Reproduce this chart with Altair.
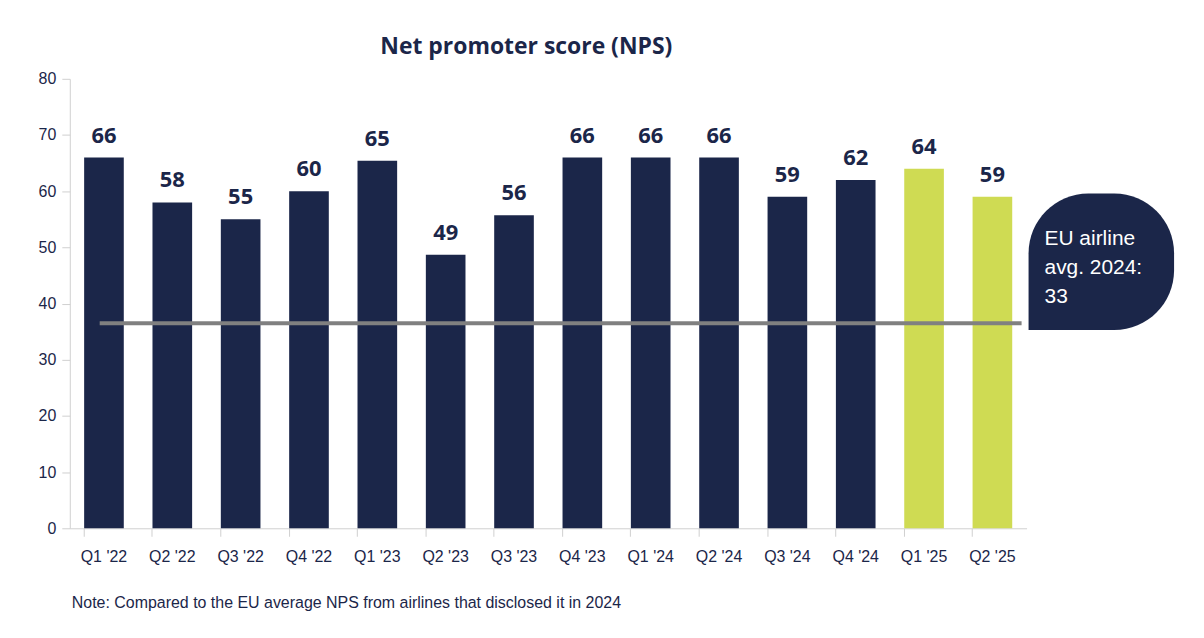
import pandas as pd
import altair as alt

quarters = ["Q1 '22", "Q2 '22", "Q3 '22", "Q4 '22", "Q1 '23", "Q2 '23", "Q3 '23",
            "Q4 '23", "Q1 '24", "Q2 '24", "Q3 '24", "Q4 '24", "Q1 '25", "Q2 '25"]
nps = [66, 58, 55, 60, 65, 49, 56, 66, 66, 66, 59, 62, 64, 59]
bar_heights = [66, 58, 55, 60, 65.4, 48.7, 55.7, 66, 66, 66, 59, 62, 64, 59]
group = ["past"] * 12 + ["2025"] * 2
eu_line = 36.5  # where the reference line sits in the picture

NAVY = "#1b2649"
GREEN = "#cfdb53"
FONT = "Open Sans"

df = pd.DataFrame({"q": quarters, "nps": nps, "h": bar_heights, "g": group})

x = alt.X("q:N", sort=quarters, title=None,
          scale=alt.Scale(paddingInner=0.42, paddingOuter=0.21),
          axis=alt.Axis(labelAngle=0, labelFont="Liberation Sans", labelFontSize=16,
                        labelColor="#1b2649", labelPadding=12, domainColor="#d0d0d0",
                        tickColor="#d0d0d0", tickSize=8, bandPosition=0))
y = alt.Y("h:Q", title=None, scale=alt.Scale(domain=[0, 80]),
          axis=alt.Axis(values=list(range(0, 81, 10)), grid=False, labelFont="Liberation Sans",
                        labelFontSize=16, labelColor="#1b2649", labelPadding=6,
                        domainColor="#d0d0d0", tickColor="#d0d0d0", tickSize=8))

base = alt.Chart(df)
bars = base.mark_bar().encode(
    x=x, y=y,
    color=alt.Color("g:N", scale=alt.Scale(domain=["past", "2025"], range=[NAVY, GREEN]), legend=None),
)
labels = base.mark_text(dy=-22, font=FONT, fontSize=22, fontWeight="bold", color=NAVY).encode(
    x=x, y="h:Q", text="nps:Q")

line = alt.Chart(pd.DataFrame({"v": [eu_line]})).mark_rule(color="#808080", strokeWidth=4).encode(
    y="v:Q", x=alt.value(30), x2=alt.value(955))

bubble = alt.Chart(pd.DataFrame({"a": [0]})).mark_rect(
    color=NAVY, cornerRadiusTopLeft=60, cornerRadiusTopRight=60,
    cornerRadiusBottomRight=60, cornerRadiusBottomLeft=0, clip=False
).encode(x=alt.value(962), x2=alt.value(1108), y=alt.value(115), y2=alt.value(252))

bubble_text = alt.Chart(pd.DataFrame({"t": [["EU airline", "avg. 2024:", "33"]]})).mark_text(
    align="left", baseline="top", font="Liberation Sans", fontSize=21, color="white",
    lineHeight=29, clip=False
).encode(x=alt.value(978), y=alt.value(150), text="t")

note = alt.Chart(pd.DataFrame({"t": ["Note: Compared to the EU average NPS from airlines that disclosed it in 2024"]})).mark_text(
    align="left", baseline="middle", font="Liberation Sans", fontSize=16, color=NAVY
).encode(x=alt.value(2), y=alt.value(526), text="t")

chart = alt.layer(bars, line, labels, bubble, bubble_text, note).properties(
    width=960, height=451,
    title=alt.Title("Net promoter score (NPS)", font=FONT, fontSize=23, fontWeight="bold",
                    color=NAVY, anchor="middle", dx=-22, offset=12),
    autosize=alt.AutoSizeParams(type="none"),
    padding={"left": 62, "top": 70, "right": 170, "bottom": 100},
).configure_view(stroke=None)

chart.save("out.html", embed_options={"renderer": "svg", "actions": False})
